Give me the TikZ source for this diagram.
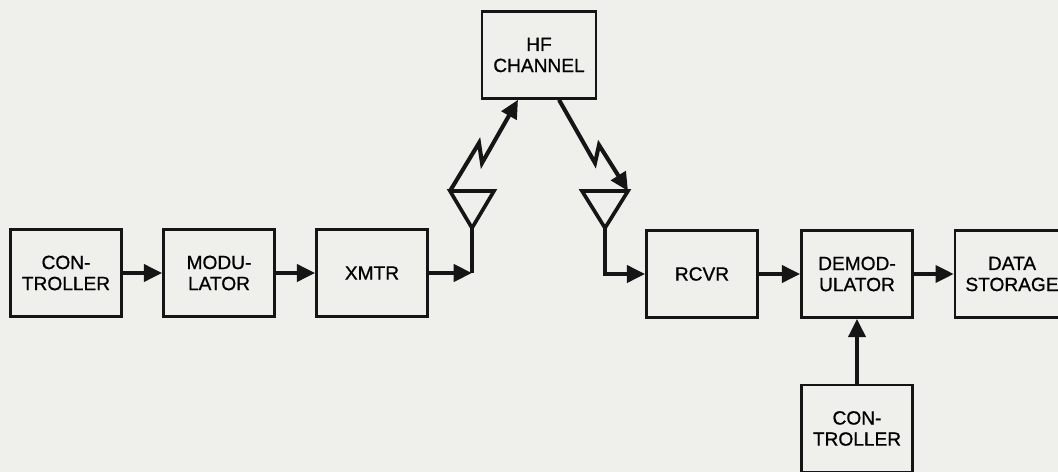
\documentclass[tikz,border=0pt]{standalone}
\usepackage{fontspec}
\setmainfont{Liberation Sans}
\usetikzlibrary{calc,arrows.meta}
\definecolor{fond}{HTML}{EFEFEC}
\definecolor{encre}{HTML}{151515}

\begin{document}
\begin{tikzpicture}[x=0.025cm,y=-0.025cm,>={Triangle[length=13pt,width=12pt]},
    bloc/.style={draw=encre,line width=1.7pt,minimum width=2.78cm,minimum height=2.18cm,inner sep=0pt,align=center,font=\fontsize{13.6}{15}\selectfont\addfontfeatures{FakeBold=0.8}},
    fleche/.style={->,draw=encre,line width=2.9pt},
    antenne/.style={draw=encre,line width=2.6pt}]

    % Fond et cadre de l'image
    \fill[fond] (0,0) rectangle (1058,472);
    \useasboundingbox (0,0) rectangle (1058,472);

    % Définir les blocs
    \node[bloc] (ctrlA) at (66,273) {CON-\\TROLLER};
    \node[bloc] (modul) at (219,273) {MODU-\\LATOR};
    \node[bloc] (xmtr) at (372,273) {XMTR};
    \node[bloc,minimum width=2.85cm] (canal) at (539,55) {HF\\CHANNEL};
    \node[bloc] (rcvr) at (702,274) {RCVR};
    \node[bloc] (demod) at (857,274) {DEMOD-\\ULATOR};
    \node[bloc,minimum width=2.85cm] (stock) at (1012,274) {DATA\\STORAGE};
    \node[bloc] (ctrlB) at (857,428.5) {CON-\\TROLLER};

    % Définir les coordonnées des antennes
    \coordinate (sommetA) at (472,228);
    \coordinate (gaucheA) at (450,191);
    \coordinate (droiteA) at (494,191);
    \coordinate (piedA) at (xmtr.east -| sommetA);
    \coordinate (sommetB) at (605,228);
    \coordinate (gaucheB) at (582,191);
    \coordinate (droiteB) at (628,191);

    % Points des éclairs
    \coordinate (eclairA1) at (479,143);
    \coordinate (eclairA2) at (482,163);
    \coordinate (eclairB1) at (595,163);
    \coordinate (eclairB2) at (599,145);
    \coordinate (canalA) at ($(canal.south)+(-21,0)$);
    \coordinate (canalB) at ($(canal.south)+(20,0)$);

    % Chaîne d'émission
    \draw[fleche] (ctrlA) -- (modul);
    \draw[fleche] (modul) -- (xmtr);
    \draw[fleche] (xmtr.east) -- (piedA);
    \draw[antenne] (piedA) -- (sommetA);
    \draw[antenne] (sommetA) -- (gaucheA) -- (droiteA) -- cycle;
    \draw[fleche] (gaucheA) -- (eclairA1) -- (eclairA2) -- (canalA);

    % Chaîne de réception
    \draw[fleche] (canalB) -- (eclairB1) -- (eclairB2) -- (droiteB);
    \draw[antenne] (sommetB) -- (gaucheB) -- (droiteB) -- cycle;
    \draw[fleche] (sommetB) |- (rcvr.west);
    \draw[fleche] (rcvr) -- (demod);
    \draw[fleche] (demod) -- (stock);
    \draw[fleche] (ctrlB) -- (demod);
\end{tikzpicture}
\end{document}
